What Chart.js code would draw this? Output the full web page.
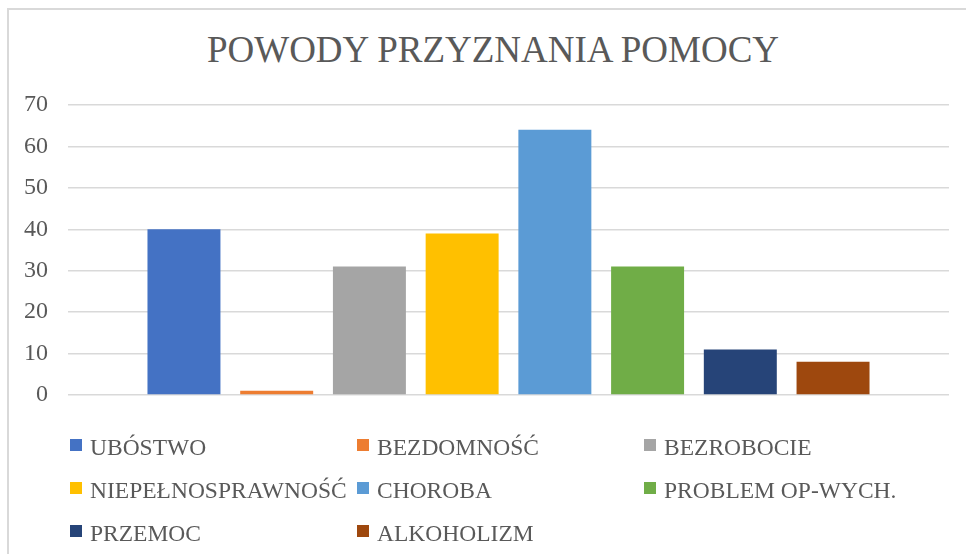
<!DOCTYPE html>
<html lang="pl">
<head>
  <meta charset="UTF-8" />
  <title>Powody przyznania pomocy</title>
  <script src="https://cdn.jsdelivr.net/npm/chart.js@4.4.3/dist/chart.umd.min.js"></script>
  <style>
    html, body {
      margin: 0;
      padding: 0;
      width: 966px;
      height: 554px;
      overflow: hidden;
      background: #fff;
      font-family: 'Liberation Serif', 'Times New Roman', serif;
    }

    .ramka {
      position: absolute;
      left: 7px;
      top: 8px;
      width: 1000px;
      height: 600px;
      border: 2px solid #d9d9d9;
      box-sizing: border-box;
    }

    /* tytul wysrodkowany na calej ramce (jak w Excelu) */
    .tytul {
      position: absolute;
      left: 0;
      top: 31px;
      width: 986px;
      text-align: center;
      font-size: 37px;
      line-height: 1;
      color: #595959;
      white-space: nowrap;
    }

    .wykres {
      position: absolute;
      left: 0;
      top: 0;
      width: 966px;
      height: 554px;
    }

    .legenda {
      position: absolute;
      left: 70px;
      top: 436px;
      display: grid;
      grid-template-columns: repeat(3, 287px);
      grid-auto-rows: 43px;
      color: #595959;
      font-size: 23.5px;
      line-height: 1;
    }

    .legenda .poz {
      display: flex;
      align-items: center;
      height: 24px;
      white-space: nowrap;
    }

    .legenda .kw {
      width: 12px;
      height: 12px;
      margin-right: 8px;
      position: relative;
      top: -3px;
      flex: none;
    }
  </style>
</head>
<body>
  <div class="ramka"></div>
  <div class="tytul">POWODY PRZYZNANIA POMOCY</div>
  <div class="wykres"><canvas id="powody"></canvas></div>
  <div class="legenda" id="legenda"></div>

  <script>
    const powody = ['UBÓSTWO', 'BEZDOMNOŚĆ', 'BEZROBOCIE', 'NIEPEŁNOSPRAWNOŚĆ',
      'CHOROBA', 'PROBLEM OP-WYCH.', 'PRZEMOC', 'ALKOHOLIZM'];
    const liczby = [40, 1, 31, 39, 64, 31, 11, 8];
    const kolory = ['#4472C4', '#ED7D31', '#A5A5A5', '#FFC000',
      '#5B9BD5', '#70AD47', '#264478', '#9E480E'];
    const osY = [0, 10, 20, 30, 40, 50, 60, 70];

    const czcionka = "'Liberation Serif', 'Times New Roman', serif";
    const szary = '#595959';

    // legenda w trzech kolumnach jak w Excelu
    const legenda = document.getElementById('legenda');
    powody.forEach((nazwa, i) => {
      const poz = document.createElement('div');
      poz.className = 'poz';
      const kw = document.createElement('span');
      kw.className = 'kw';
      kw.style.background = kolory[i];
      const txt = document.createElement('span');
      txt.textContent = nazwa;
      poz.appendChild(kw);
      poz.appendChild(txt);
      legenda.appendChild(poz);
    });

    new Chart(document.getElementById('powody'), {
      type: 'bar',
      data: {
        labels: [''],
        datasets: powody.map((nazwa, i) => ({
          label: nazwa,
          data: [liczby[i]],
          backgroundColor: kolory[i],
          borderWidth: 0
        }))
      },
      options: {
        responsive: true,
        maintainAspectRatio: false,
        animation: false,
        categoryPercentage: 0.842,
        barPercentage: 0.787,
        layout: {
          padding: { left: 4, right: 17, top: 105, bottom: 159 }
        },
        scales: {
          x: {
            display: false
          },
          y: {
            min: 0,
            max: 70,
            afterBuildTicks: axis => {
              axis.ticks = osY.map(v => ({ value: v }));
            },
            border: { display: false },
            grid: {
              color: '#d9d9d9',
              lineWidth: 1.5,
              drawTicks: false
            },
            ticks: {
              padding: 20,
              color: szary,
              font: { family: czcionka, size: 24 }
            }
          }
        },
        plugins: {
          legend: { display: false },
          tooltip: { enabled: false },
          title: { display: false }
        }
      }
    });
  </script>
</body>
</html>
